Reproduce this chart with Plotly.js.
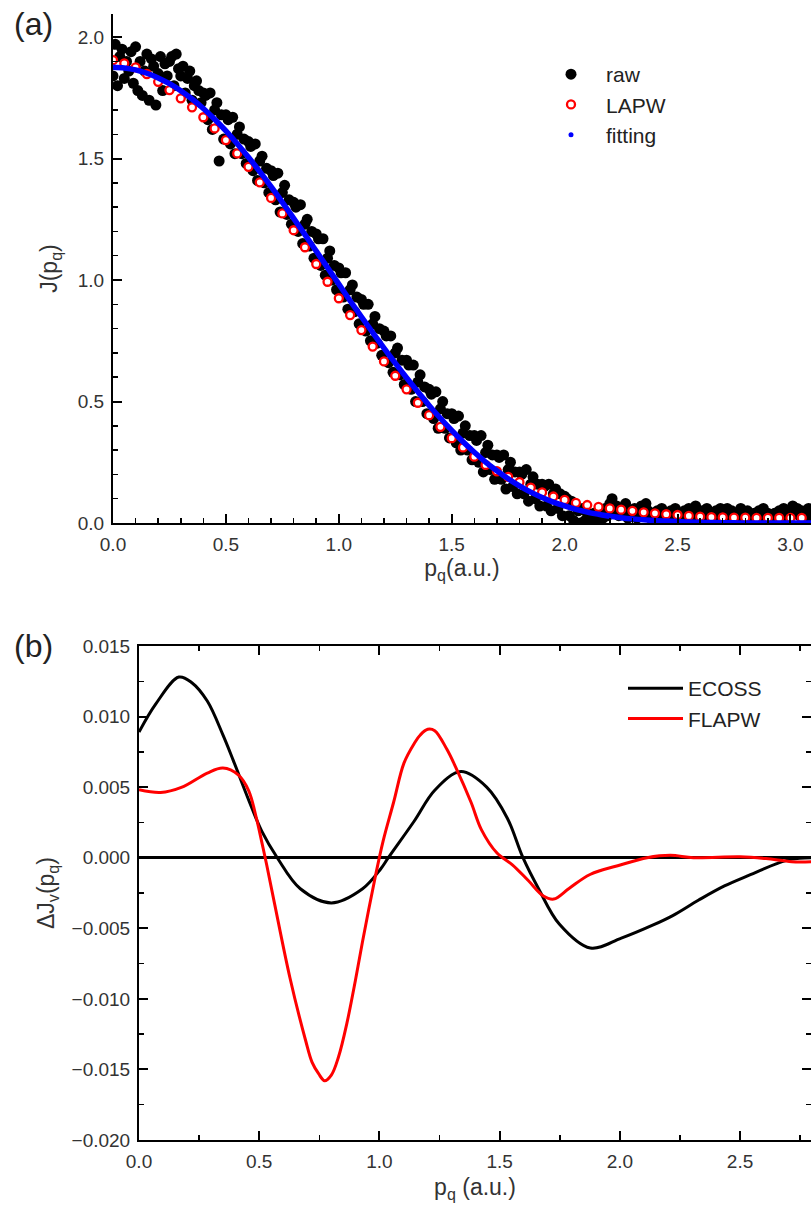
<!DOCTYPE html>
<html>
<head>
<meta charset="utf-8">
<script src="https://cdn.plot.ly/plotly-3.0.1.min.js"></script>
<style>
html,body{margin:0;padding:0;background:#fff;overflow:hidden;}
#chart{width:811px;height:1209px;}
</style>
</head>
<body>
<div id="chart"></div>
<script>
// ---------- Panel (a) data ----------
// raw Compton profile, sampled every 0.01 a.u. from 0.00
var rawStart = 0.0, rawStep = 0.01;
var rawJ = [1.84,1.97,1.80,1.92,1.95,1.83,1.90,1.86,1.94,1.81,1.96,
            1.78,1.90,1.76,1.86,1.93,1.74,1.91,1.88,1.72,1.85,
            1.92,1.78,1.89,1.84,1.90,1.92,1.80,1.93,1.87,1.84,
            1.88,1.77,1.83,1.86,1.74,1.80,1.82,1.78,1.73,1.77,
            1.76,1.66,1.77,1.62,1.70,1.73,1.49,1.68,1.58,1.68,
            1.66,1.56,1.67,1.52,1.60,1.63,1.52,1.58,1.48,1.57,
            1.55,1.45,1.56,1.41,1.49,1.51,1.40,1.46,1.36,1.45,
            1.43,1.33,1.44,1.28,1.36,1.39,1.27,1.33,1.23,1.32,
            1.30,1.20,1.31,1.15,1.23,1.25,1.14,1.20,1.09,1.19,
            1.17,1.06,1.17,1.02,1.09,1.12,1.00,1.06,0.96,1.05,
            1.03,0.93,1.03,0.88,0.96,0.98,0.87,0.93,0.82,0.92,
            0.90,0.79,0.90,0.75,0.82,0.85,0.74,0.80,0.69,0.79,
            0.77,0.66,0.77,0.62,0.70,0.72,0.61,0.67,0.57,0.67,
            0.65,0.55,0.65,0.50,0.58,0.61,0.50,0.56,0.45,0.55,
            0.53,0.43,0.54,0.39,0.47,0.50,0.39,0.45,0.35,0.45,
            0.43,0.33,0.44,0.30,0.37,0.40,0.30,0.36,0.26,0.36,
            0.34,0.25,0.36,0.21,0.29,0.32,0.22,0.28,0.18,0.28,
            0.27,0.18,0.28,0.14,0.22,0.25,0.15,0.21,0.12,0.21,
            0.20,0.12,0.22,0.09,0.16,0.19,0.10,0.16,0.07,0.16,
            0.15,0.07,0.16,0.05,0.12,0.14,0.06,0.12,0.03,0.11,
            0.10,0.03,0.09,0.01,0.07,0.05,0.00,0.06,0.01,0.04,
            0.02,0.00,0.04,0.01,0.03,0.05,0.02,0.06,0.03,0.08,
            0.10,0.05,0.07,0.03,0.06,0.04,0.08,0.02,0.05,0.03,
            0.06,0.02,0.04,0.07,0.03,0.08,0.05,0.02,0.04,0.03,
            0.05,0.02,0.06,0.03,0.04,0.01,0.05,0.03,0.06,0.02,
            0.04,0.01,0.05,0.03,0.06,0.02,0.04,0.07,0.03,0.02,
            0.05,0.03,0.06,0.02,0.04,0.01,0.05,0.03,0.06,0.02,
            0.04,0.06,0.02,0.05,0.03,0.01,0.04,0.06,0.03,0.02,
            0.05,0.03,0.01,0.04,0.02,0.05,0.03,0.06,0.02,0.04,
            0.03,0.01,0.04,0.02,0.05,0.03,0.06,0.02,0.04,0.05,
            0.07,0.04,0.06,0.03,0.05,0.02,0.04,0.06,0.03];
// LAPW and fitting, sampled every 0.05 a.u. from 0.00
var calcStart = 0.0, calcStep = 0.05;
var lapwJ = [1.905,1.892,1.875,1.848,1.816,1.782,1.748,1.711,1.670,1.624,
             1.576,1.521,1.466,1.402,1.338,1.274,1.205,1.135,1.066,0.993,
             0.925,0.856,0.794,0.726,0.665,0.606,0.550,0.495,0.444,0.396,
             0.349,0.311,0.273,0.239,0.213,0.190,0.168,0.146,0.126,0.109,
             0.095,0.083,0.074,0.066,0.060,0.055,0.050,0.044,0.040,0.036,
             0.033,0.029,0.026,0.024,0.023,0.022,0.022,0.021,0.021,0.021,
             0.021,0.021];
var fitJ  = [1.876,1.873,1.865,1.851,1.832,1.808,1.779,1.745,1.706,1.662,
             1.614,1.561,1.505,1.446,1.384,1.320,1.254,1.187,1.119,1.051,
             0.983,0.915,0.849,0.784,0.720,0.658,0.598,0.540,0.484,0.431,
             0.381,0.334,0.291,0.251,0.215,0.182,0.153,0.127,0.105,0.086,
             0.070,0.056,0.045,0.036,0.028,0.022,0.017,0.013,0.010,0.008,
             0.006,0.004,0.003,0.002,0.001,0.001,0.000,0.000,0.000,0.000,
             0.000,0.000,0.000];

// ---------- Panel (b) data ----------
var ecossP = [0,0.07,0.166,0.22,0.284,0.349,0.392,0.456,0.51,0.575,0.671,0.80,0.93,1.005,1.037,1.145,1.231,1.339,1.446,1.532,1.597,1.662,1.748,1.877,2.006,2.134,2.22,2.328,2.435,2.543,2.65,2.715,2.8];
var ecossDJ = [0.0089,0.0109,0.0128,0.0124,0.0111,0.0087,0.0069,0.0041,0.0019,0.0,-0.0022,-0.0032,-0.0022,-0.0008,0.0,0.0026,0.0048,0.0061,0.0050,0.0028,0.0,-0.0022,-0.0047,-0.0064,-0.0057,-0.0048,-0.0041,-0.0030,-0.0020,-0.0012,-0.00044,-0.0001,0.0];
var flapwP = [0,0.090,0.176,0.284,0.349,0.413,0.456,0.488,0.510,0.531,0.564,0.628,0.693,0.72,0.747,0.772,0.80,0.83,0.865,0.90,0.929,0.983,1.015,1.059,1.102,1.145,1.17,1.201,1.23,1.28,1.317,1.381,1.424,1.489,1.553,1.618,1.682,1.725,1.790,1.876,2.005,2.113,2.21,2.306,2.5,2.608,2.715,2.797];
var flapwDJ = [0.00481,0.00462,0.00498,0.0060,0.00636,0.00587,0.00476,0.00282,0.00116,-0.0005,-0.00327,-0.00852,-0.01295,-0.0145,-0.0153,-0.0158,-0.0154,-0.0141,-0.0117,-0.0087,-0.0060,-0.00133,0.00116,0.00393,0.0067,0.0081,0.0087,0.0091,0.0090,0.0077,0.00642,0.00393,0.00199,0.00033,-0.0005,-0.0016,-0.00271,-0.00293,-0.00216,-0.00119,-0.0005,0.0,0.00017,0.0,0.00006,-0.00006,-0.00028,-0.00028];

function grid(start, step, n){ var a=[]; for(var i=0;i<n;i++){ a.push(+(start+i*step).toFixed(4)); } return a; }

var FONT = 'Liberation Sans, Arial, sans-serif';
var TXT = '#333333';

var traces = [
  {x: grid(rawStart, rawStep, rawJ.length), y: rawJ, type:'scatter', mode:'markers', name:'raw',
   marker:{color:'#000', size:11}, xaxis:'x', yaxis:'y', legend:'legend'},
  {x: grid(calcStart, calcStep, lapwJ.length), y: lapwJ, type:'scatter', mode:'markers', name:'LAPW',
   marker:{color:'#fff', size:8, line:{color:'#ff0000', width:2.3}}, xaxis:'x', yaxis:'y', legend:'legend'},
  {x: grid(calcStart, calcStep, fitJ.length), y: fitJ, type:'scatter', mode:'lines', name:'fitting',
   line:{color:'#0000ff', width:5.5, shape:'spline'}, showlegend:false, legendgroup:'fit', xaxis:'x', yaxis:'y'},
  {x:[null], y:[null], type:'scatter', mode:'markers', name:'fitting', legendgroup:'fit',
   marker:{color:'#0000ff', size:5}, xaxis:'x', yaxis:'y', legend:'legend'},
  {x: ecossP, y: ecossDJ, type:'scatter', mode:'lines', name:'ECOSS',
   line:{color:'#000', width:3, shape:'spline', smoothing:1}, xaxis:'x2', yaxis:'y2', legend:'legend2'},
  {x: flapwP, y: flapwDJ, type:'scatter', mode:'lines', name:'FLAPW',
   line:{color:'#ff0000', width:3, shape:'spline', smoothing:1}, xaxis:'x2', yaxis:'y2', legend:'legend2'}
];

function axisBase(){
  return {showline:true, linecolor:'#000', linewidth:2, ticks:'inside', tickcolor:'#000', tickwidth:2,
          ticklen:9, showgrid:false, zeroline:false, tickfont:{family:FONT, size:19, color:TXT},
          ticklabelstandoff:3};
}

var xa = axisBase();
Object.assign(xa, {domain:[113/811, 1], range:[0, 3.091], dtick:0.5, tick0:0, tickformat:'.1f',
  minor:{dtick:0.1, ticks:'inside', ticklen:5, tickcolor:'#000', tickwidth:1.5},
  title:{text:'p<sub>q</sub>(a.u.)', font:{family:FONT, size:23, color:TXT}, standoff:2}, anchor:'y'});
var ya = axisBase();
Object.assign(ya, {domain:[(1209-523)/1209, (1209-14)/1209], range:[0, 2.095], dtick:0.5, tick0:0, tickformat:'.1f',
  minor:{dtick:0.1, ticks:'inside', ticklen:5, tickcolor:'#000', tickwidth:1.5},
  title:{text:'J(p<sub>q</sub>)', font:{family:FONT, size:23, color:TXT}, standoff:14}, anchor:'x'});
var xb = axisBase();
Object.assign(xb, {domain:[139/811, 1], range:[0, 2.795], dtick:0.5, tick0:0, tickformat:'.1f', mirror:'ticks',
  minor:{dtick:0.25, ticks:'inside', ticklen:5, tickcolor:'#000', tickwidth:1.5},
  title:{text:'p<sub>q</sub> (a.u.)', font:{family:FONT, size:23, color:TXT}, standoff:8}, anchor:'y2'});
var yb = axisBase();
Object.assign(yb, {domain:[(1209-1140)/1209, (1209-646)/1209], range:[-0.020, 0.015], dtick:0.005, tick0:0, tickformat:'.3f', mirror:'ticks',
  minor:{dtick:0.0025, ticks:'inside', ticklen:5, tickcolor:'#000', tickwidth:1.5},
  zeroline:true, zerolinecolor:'#000', zerolinewidth:2.5,
  title:{text:'ΔJ<sub>v</sub>(p<sub>q</sub>)', font:{family:FONT, size:23, color:TXT}, standoff:10}, anchor:'x2'});

var layout = {
  width:811, height:1209, margin:{l:0, r:0, t:0, b:0}, paper_bgcolor:'#fff', plot_bgcolor:'#fff',
  font:{family:FONT, color:TXT},
  xaxis:xa, yaxis:ya, xaxis2:xb, yaxis2:yb,
  legend:{x:536/811, y:1-54/1209, xanchor:'left', yanchor:'top', bgcolor:'rgba(0,0,0,0)',
          font:{family:FONT, size:21, color:'#222'}, itemwidth:60, tracegroupgap:0},
  legend2:{x:623/811, y:1-668/1209, xanchor:'left', yanchor:'top', bgcolor:'rgba(0,0,0,0)',
          font:{family:FONT, size:21, color:'#222'}, itemwidth:55, tracegroupgap:0},
  annotations:[
    {text:'(a)', xref:'paper', yref:'paper', x:12/811, y:1-24/1209, xanchor:'left', yanchor:'middle', showarrow:false,
     font:{family:FONT, size:32, color:'#222'}},
    {text:'(b)', xref:'paper', yref:'paper', x:12/811, y:1-646/1209, xanchor:'left', yanchor:'middle', showarrow:false,
     font:{family:FONT, size:32, color:'#222'}}
  ],
  showlegend:true
};

Plotly.newPlot('chart', traces, layout, {staticPlot:true, displayModeBar:false});
</script>
</body>
</html>
